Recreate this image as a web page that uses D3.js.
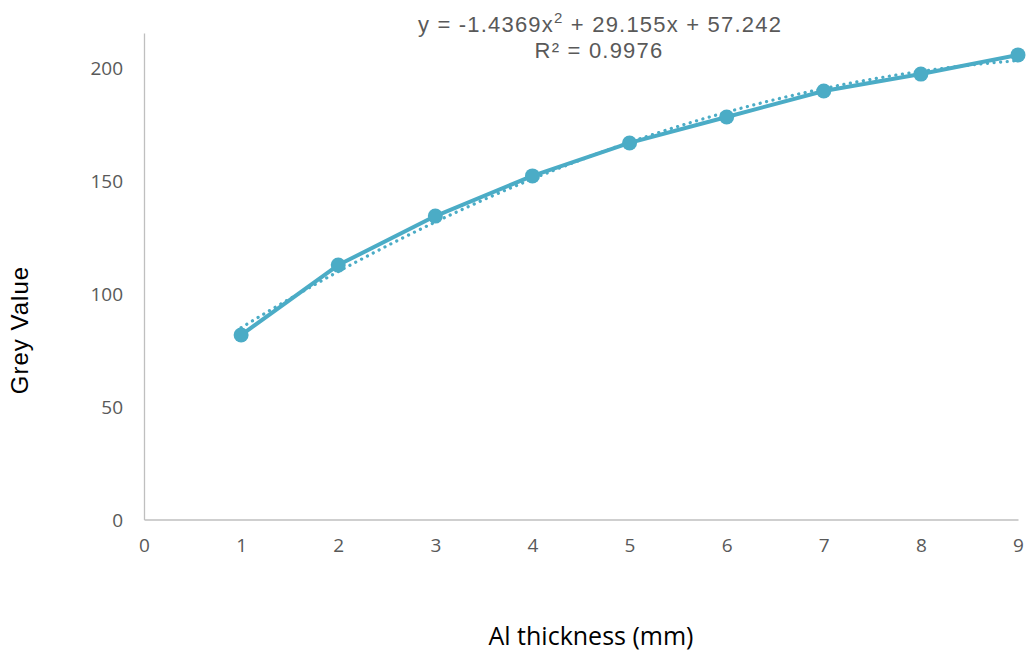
<!DOCTYPE html>
<html>
<head>
<meta charset="utf-8">
<script src="https://cdn.jsdelivr.net/npm/d3@7"></script>
<style>
  html, body { margin: 0; padding: 0; background: #ffffff; }
  svg { display: block; }
</style>
</head>
<body>
<svg id="chart" width="1030" height="651"></svg>
<script>
// Measured grey value against aluminium thickness
const thickness = [1, 2, 3, 4, 5, 6, 7, 8, 9];
const greyValue = [81.7, 112.7, 134.4, 152.2, 166.8, 178.3, 189.8, 197.3, 205.8];

// Second-order polynomial trendline coefficients (a·x² + b·x + c) and fit quality
const trendCoeffs = [-1.4369, 29.155, 57.242];
const rSquared = 0.9976;

const xTicks = [0, 1, 2, 3, 4, 5, 6, 7, 8, 9];
const yTicks = [0, 50, 100, 150, 200];

const colour = "#4BACC6";
const svg = d3.select("#chart");

const x = d3.scaleLinear().domain([0, 9]).range([144, 1018]);
const y = d3.scaleLinear().domain([0, 215.5]).range([519.5, 33]);

// Axes: light grey lines, no tick marks
const xAxis = d3.axisBottom(x).tickValues(xTicks).tickSize(0).tickPadding(26).tickFormat(d3.format("d"));
const yAxis = d3.axisLeft(y).tickValues(yTicks).tickSize(0).tickPadding(21).tickFormat(d3.format("d"));

const gx = svg.append("g").attr("transform", `translate(0,${y(0)})`).call(xAxis);
const gy = svg.append("g").attr("transform", `translate(${x(0)},0)`).call(yAxis);

[gx, gy].forEach(g => {
  g.select(".domain").attr("stroke", "#bfbfbf").attr("stroke-width", 1.3);
  g.selectAll("text")
    .attr("fill", "#595959")
    .style("font-family", "'Open Sans', 'Noto Sans', sans-serif")
    .style("font-size", "19px");
});
gy.selectAll("text").attr("dy", "0.35em");
gx.selectAll("text").attr("dy", "0.35em");

// Trendline, sampled along the fitted polynomial
const poly = t => trendCoeffs[0] * t * t + trendCoeffs[1] * t + trendCoeffs[2];
const trendX = d3.range(thickness[0], thickness[thickness.length - 1] + 0.001, 0.05);
svg.append("path")
  .datum(trendX)
  .attr("fill", "none")
  .attr("stroke", colour)
  .attr("stroke-width", 3.2)
  .attr("stroke-linecap", "round")
  .attr("stroke-dasharray", "0.1 6.5")
  .attr("d", d3.line().x(d => x(d)).y(d => y(poly(d))));

// Measured series
const series = thickness.map((t, i) => ({ t, v: greyValue[i] }));
svg.append("path")
  .datum(series)
  .attr("fill", "none")
  .attr("stroke", colour)
  .attr("stroke-width", 4)
  .attr("stroke-linejoin", "round")
  .attr("d", d3.line().x(d => x(d.t)).y(d => y(d.v)));

svg.append("g").selectAll("circle")
  .data(series)
  .join("circle")
  .attr("cx", d => x(d.t))
  .attr("cy", d => y(d.v))
  .attr("r", 7.5)
  .attr("fill", colour);

// Trendline equation
const labelFont = "'Liberation Sans', Arial, sans-serif";
const eq = svg.append("text")
  .attr("x", 600).attr("y", 32)
  .attr("text-anchor", "middle")
  .attr("fill", "#595959")
  .style("font-family", labelFont)
  .style("font-size", "22px")
  .style("letter-spacing", "1.2px");
eq.append("tspan").text(`y = ${trendCoeffs[0]}x`);
eq.append("tspan").attr("dy", -9).style("font-size", "15px").text("2");
eq.append("tspan").attr("dy", 9).text(` + ${trendCoeffs[1]}x + ${trendCoeffs[2]}`);

svg.append("text")
  .attr("x", 599).attr("y", 58)
  .attr("text-anchor", "middle")
  .attr("fill", "#595959")
  .style("font-family", labelFont)
  .style("font-size", "22px")
  .style("letter-spacing", "1.2px")
  .text(`R² = ${rSquared}`);

// Axis titles
svg.append("text")
  .attr("x", 591).attr("y", 645)
  .attr("text-anchor", "middle")
  .attr("fill", "#000")
  .style("font-family", "'Open Sans', 'Noto Sans', sans-serif")
  .style("font-size", "25px")
  .text("Al thickness (mm)");

svg.append("text")
  .attr("transform", "translate(28,330) rotate(-90)")
  .attr("text-anchor", "middle")
  .attr("fill", "#000")
  .style("font-family", labelFont)
  .style("font-size", "24px")
  .style("letter-spacing", "1px")
  .text("Grey Value");
</script>
</body>
</html>
